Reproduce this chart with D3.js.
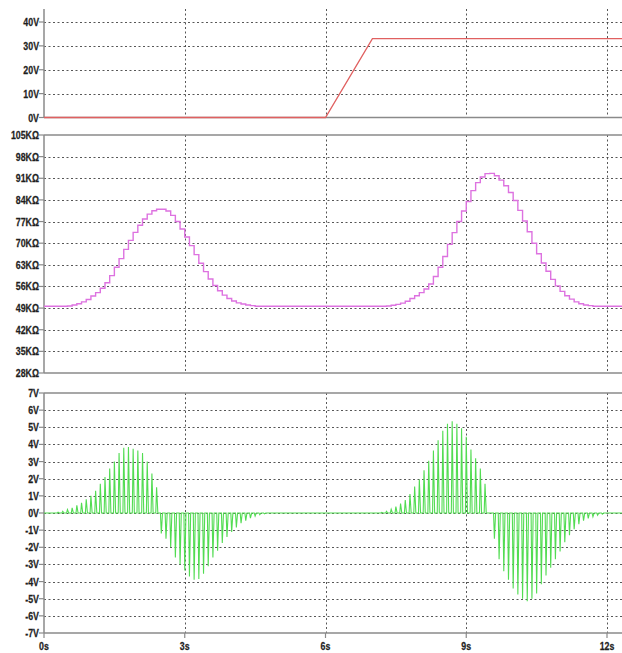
<!DOCTYPE html>
<html><head><meta charset="utf-8">
<script src="https://cdn.jsdelivr.net/npm/d3@7"></script>
<style>
html,body{margin:0;padding:0;background:#fff;}
svg{display:block;}
.lbl{font-family:"Liberation Sans",Arial,sans-serif;font-weight:bold;font-size:11px;fill:#1e1e1e;stroke:#1e1e1e;stroke-width:0.25px;}
</style></head>
<body>
<svg id="c" width="622" height="653"></svg>
<script>
// ---------- data ----------
const timeTicks = [0, 3, 6, 9, 12];
const timeLabels = ["0s", "3s", "6s", "9s", "12s"];

const vinTicks = [0, 10, 20, 30, 40];
const vinLabels = ["0V", "10V", "20V", "30V", "40V"];

const resTicks = [28, 35, 42, 49, 56, 63, 70, 77, 84, 91, 98, 105];
const resLabels = ["28KΩ", "35KΩ", "42KΩ", "49KΩ", "56KΩ", "63KΩ", "70KΩ", "77KΩ", "84KΩ", "91KΩ", "98KΩ", "105KΩ"];

const voutTicks = [-7, -6, -5, -4, -3, -2, -1, 0, 1, 2, 3, 4, 5, 6, 7];
const voutLabels = ["-7V", "-6V", "-5V", "-4V", "-3V", "-2V", "-1V", "0V", "1V", "2V", "3V", "4V", "5V", "6V", "7V"];

// input voltage (V)
const vinTime = [0, 6, 7, 12.33];
const vinVolt = [0, 0, 33, 33];

// resistance staircase (kΩ), value held from each time to the next
const resTime = [0,
  0.5, 0.6, 0.7, 0.8, 0.9, 1.0, 1.1, 1.2, 1.3, 1.4, 1.5, 1.6, 1.7, 1.8, 1.9, 2.0, 2.1, 2.2, 2.3, 2.4,
  2.5, 2.6, 2.7, 2.8, 2.9, 3.0, 3.1, 3.2, 3.3, 3.4, 3.5, 3.6, 3.7, 3.8, 3.9, 4.0, 4.1, 4.2, 4.3, 4.4, 4.5,
  7.3, 7.4, 7.5, 7.6, 7.7, 7.8, 7.9, 8.0, 8.1, 8.2, 8.3, 8.4, 8.5, 8.6, 8.7, 8.8, 8.9, 9.0, 9.1, 9.2, 9.3, 9.4,
  9.5, 9.6, 9.7, 9.8, 9.9, 10.0, 10.1, 10.2, 10.3, 10.4, 10.5, 10.6, 10.7, 10.8, 10.9, 11.0, 11.1, 11.2, 11.3,
  11.4, 11.5, 11.6, 11.7, 12.33];
const resKohm = [49.6,
  49.7, 50.0, 50.4, 51.0, 51.8, 52.9, 54.0, 55.4, 57.2, 59.5, 62.2, 65.0, 68.0, 70.9, 73.5, 75.8, 77.8, 79.4, 80.5, 81.0,
  81.0, 80.4, 79.0, 77.0, 74.6, 72.0, 69.2, 66.3, 63.5, 60.8, 58.4, 56.3, 54.6, 53.2, 52.1, 51.3, 50.7, 50.3, 50.0, 49.8, 49.6,
  49.7, 49.9, 50.2, 50.6, 51.2, 52.1, 53.0, 54.0, 55.2, 56.8, 59.2, 62.2, 65.7, 69.6, 73.4, 77.0, 80.4, 83.5, 87.0, 89.6, 91.4, 92.5,
  92.6, 91.8, 90.4, 88.6, 86.4, 83.8, 80.6, 77.2, 73.7, 70.0, 66.6, 63.6, 60.9, 58.3, 56.2, 54.4, 53.0, 51.9, 51.0,
  50.4, 50.0, 49.8, 49.6, 49.6];

// output pulses (V): time of each spike and its peak
const pulseTime = [
  0.3, 0.4, 0.5, 0.6, 0.7, 0.8, 0.9, 1.0, 1.1, 1.2, 1.3, 1.4, 1.5, 1.6, 1.7, 1.8, 1.9, 2.0, 2.1, 2.2, 2.3, 2.4,
  2.5, 2.6, 2.7, 2.8, 2.9, 3.0, 3.1, 3.2, 3.3, 3.4, 3.5, 3.6, 3.7, 3.8, 3.9, 4.0, 4.1, 4.2, 4.3, 4.4, 4.5, 4.6, 4.7,
  7.2, 7.3, 7.4, 7.5, 7.6, 7.7, 7.8, 7.9, 8.0, 8.1, 8.2, 8.3, 8.4, 8.5, 8.6, 8.7, 8.8, 8.9, 9.0, 9.1, 9.2, 9.3, 9.4,
  9.6, 9.7, 9.8, 9.9, 10.0, 10.1, 10.2, 10.3, 10.4, 10.5, 10.6, 10.7, 10.8, 10.9, 11.0, 11.1, 11.2, 11.3, 11.4, 11.5,
  11.6, 11.7, 11.8, 11.9];
const pulseVolt = [
  0.05, 0.1, 0.2, 0.3, 0.45, 0.6, 0.8, 1.0, 1.3, 1.7, 2.1, 2.6, 3.0, 3.5, 3.8, 3.85, 3.75, 3.65, 3.5, 3.0, 2.3, 1.5,
  -1.2, -1.5, -2.0, -2.6, -3.0, -3.35, -3.7, -3.9, -3.85, -3.55, -3.1, -2.6, -2.2, -1.75, -1.4, -1.1, -0.85, -0.6, -0.45, -0.3, -0.18, -0.1, -0.05,
  0.04, 0.1, 0.22, 0.38, 0.55, 0.75, 1.1, 1.55, 1.95, 2.5, 3.05, 3.65, 4.25, 4.8, 5.2, 5.35, 5.2, 4.95, 4.45, 3.7, 3.2, 2.6, 1.7,
  -1.5, -2.7, -3.4, -3.9, -4.4, -4.75, -5.0, -5.15, -5.0, -4.7, -4.15, -3.65, -3.2, -2.7, -2.25, -1.7, -1.3, -0.95, -0.65, -0.45,
  -0.32, -0.22, -0.13, -0.07];

// ---------- drawing ----------
const svg = d3.select("#c");
const X0 = 44, X1 = 622;
const x = d3.scaleLinear().domain([0, 12]).range([44, 607]);
const tMax = x.invert(X1);

const panels = [
  {y: d3.scaleLinear().domain([0, 40]).range([117.5, 22]), top: 9, bottom: 117.5,
   ticks: vinTicks, labels: vinLabels, topBorder: false},
  {y: d3.scaleLinear().domain([28, 105]).range([373, 135]), top: 135, bottom: 373,
   ticks: resTicks, labels: resLabels, topBorder: true},
  {y: d3.scaleLinear().domain([-7, 7]).range([633, 393]), top: 393, bottom: 633,
   ticks: voutTicks, labels: voutLabels, topBorder: true}
];

const gridColor = "#3a3a3a", axisColor = "#8a8a8a";

panels.forEach(p => {
  const g = svg.append("g");
  p.ticks.forEach(v => {
    const yy = Math.round(p.y(v)) + 0.5;
    if (Math.abs(p.y(v) - p.bottom) < 1 || Math.abs(p.y(v) - p.top) < 1) return;
    g.append("line").attr("x1", X0).attr("x2", X1).attr("y1", yy).attr("y2", yy)
      .attr("stroke", gridColor).attr("stroke-width", 1).attr("stroke-dasharray", "2,2.5").attr("opacity", 0.85);
  });
  timeTicks.slice(1).forEach(t => {
    const xx = Math.round(x(t)) + 0.5;
    g.append("line").attr("x1", xx).attr("x2", xx).attr("y1", p.top).attr("y2", p.bottom)
      .attr("stroke", gridColor).attr("stroke-width", 1).attr("stroke-dasharray", "2,2.5").attr("opacity", 0.85);
  });
  g.append("line").attr("x1", X0).attr("x2", X1).attr("y1", p.bottom).attr("y2", p.bottom)
    .attr("stroke", axisColor).attr("stroke-width", 1.5);
  if (p.topBorder) g.append("line").attr("x1", X0).attr("x2", X1).attr("y1", p.top).attr("y2", p.top)
    .attr("stroke", axisColor).attr("stroke-width", 1.5);
  g.append("line").attr("x1", X0).attr("x2", X0).attr("y1", p.top).attr("y2", p.bottom)
    .attr("stroke", axisColor).attr("stroke-width", 1.5);
  p.ticks.forEach((v, i) => {
    const yy = p.y(v);
    g.append("line").attr("x1", 39).attr("x2", X0).attr("y1", yy).attr("y2", yy)
      .attr("stroke", axisColor).attr("stroke-width", 1.2);
    g.append("text").attr("class", "lbl").attr("text-anchor", "end")
      .attr("transform", `translate(39,${yy + 4}) scale(0.8,1)`).text(p.labels[i]);
  });
});

timeTicks.forEach((t, i) => {
  svg.append("line").attr("x1", x(t)).attr("x2", x(t)).attr("y1", 633).attr("y2", 638)
    .attr("stroke", axisColor).attr("stroke-width", 1.2);
  svg.append("text").attr("class", "lbl").attr("text-anchor", "middle")
    .attr("transform", `translate(${x(t)},650) scale(0.8,1)`).text(timeLabels[i]);
});

const pV = panels[0], pR = panels[1], pO = panels[2];
const vinData = vinTime.map((t, i) => [t, vinVolt[i]]);
svg.append("path").datum(vinData)
  .attr("d", d3.line().x(d => x(d[0])).y(d => pV.y(d[1])))
  .attr("fill", "none").attr("stroke", "#e06060").attr("stroke-width", 1.3);

const resData = resTime.map((t, i) => [t, resKohm[i]]);
svg.append("path").datum(resData)
  .attr("d", d3.line().x(d => x(d[0])).y(d => pR.y(d[1])).curve(d3.curveStepAfter))
  .attr("fill", "none").attr("stroke", "#dd72e0").attr("stroke-width", 1.4);

const outData = [[0, 0]];
pulseTime.forEach((t, i) => {
  outData.push([t - 0.018, 0], [t, pulseVolt[i]], [t + 0.026, 0]);
});
outData.push([tMax, 0]);
svg.append("path").datum(outData)
  .attr("d", d3.line().x(d => x(d[0])).y(d => pO.y(d[1])))
  .attr("fill", "none").attr("stroke", "#52dc52").attr("stroke-width", 1.1);
</script>
</body></html>
